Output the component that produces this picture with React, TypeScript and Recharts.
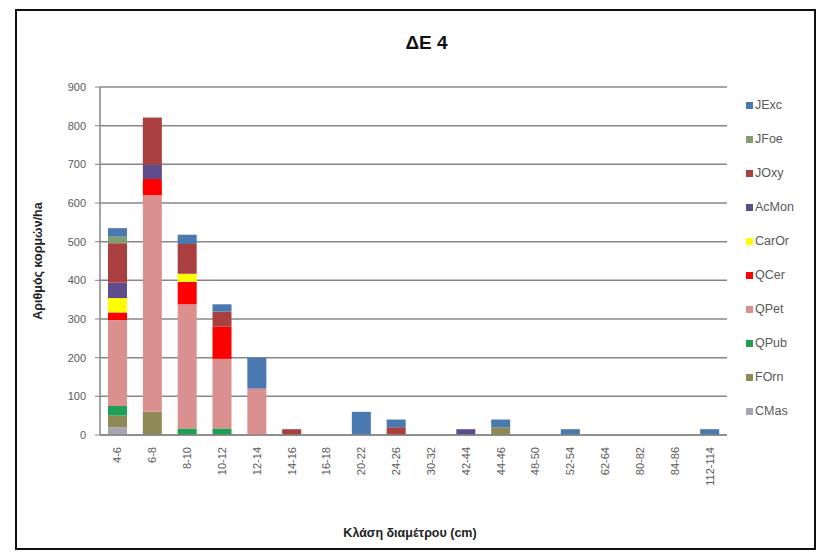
import { BarChart, Bar, XAxis, YAxis, CartesianGrid, Legend } from 'recharts';

const classes = ['4-6', '6-8', '8-10', '10-12', '12-14', '14-16', '16-18', '20-22', '24-26', '30-32', '42-44', '44-46', '48-50', '52-54', '62-64', '80-82', '84-86', '112-114'];

// stems per ha for each species, one value per diameter class
const CMas = [20, 0, 0, 0, 0, 0, 0, 0, 0, 0, 0, 0, 0, 0, 0, 0, 0, 0];
const FOrn = [30, 60, 0, 0, 0, 0, 0, 0, 0, 0, 0, 20, 0, 0, 0, 0, 0, 0];
const QPub = [25, 0, 17, 17, 0, 0, 0, 0, 0, 0, 0, 0, 0, 0, 0, 0, 0, 0];
const QPet = [222, 560, 321, 180, 120, 0, 0, 0, 0, 0, 0, 0, 0, 0, 0, 0, 0, 0];
const QCer = [20, 42, 58, 83, 0, 0, 0, 0, 0, 0, 0, 0, 0, 0, 0, 0, 0, 0];
const CarOr = [37, 0, 21, 0, 0, 0, 0, 0, 0, 0, 0, 0, 0, 0, 0, 0, 0, 0];
const AcMon = [40, 37, 0, 0, 0, 0, 0, 0, 0, 0, 15, 0, 0, 0, 0, 0, 0, 0];
const JOxy = [102, 122, 77, 39, 0, 15, 0, 0, 20, 0, 0, 0, 0, 0, 0, 0, 0, 0];
const JFoe = [17, 0, 0, 0, 0, 0, 0, 0, 0, 0, 0, 0, 0, 0, 0, 0, 0, 0];
const JExc = [22, 0, 24, 19, 80, 0, 0, 60, 20, 0, 0, 20, 0, 15, 0, 0, 0, 15];

const yTicks = [0, 100, 200, 300, 400, 500, 600, 700, 800, 900];

// bottom of the stack first
const series = [
  { key: 'CMas', values: CMas, color: '#a6a6b2' },
  { key: 'FOrn', values: FOrn, color: '#8f8a55' },
  { key: 'QPub', values: QPub, color: '#1f9e55' },
  { key: 'QPet', values: QPet, color: '#d9908f' },
  { key: 'QCer', values: QCer, color: '#ff0000' },
  { key: 'CarOr', values: CarOr, color: '#ffff00' },
  { key: 'AcMon', values: AcMon, color: '#5f4c8c' },
  { key: 'JOxy', values: JOxy, color: '#aa3f3f' },
  { key: 'JFoe', values: JFoe, color: '#7fa06c' },
  { key: 'JExc', values: JExc, color: '#4a78b0' },
];

const data = classes.map((c, i) => {
  const row: Record<string, string | number> = { name: c };
  series.forEach((s) => {
    row[s.key] = s.values[i];
  });
  return row;
});

const FONT = '"Liberation Sans", Arial, sans-serif';
const GRID = '#878787';

const XTick = (props: any) => {
  const { x, y, payload } = props;
  return (
    <text
      x={x}
      y={y + 4}
      transform={`rotate(-90, ${x}, ${y + 4})`}
      textAnchor="end"
      dominantBaseline="central"
      fontSize={11}
      fontFamily={FONT}
      fill="#595959"
    >
      {payload.value}
    </text>
  );
};

// legend lists the top of the stack first
const LegendList = () => (
  <div style={{ fontFamily: FONT, fontSize: 12.5, color: '#595959' }}>
    {[...series].reverse().map((s) => (
      <div key={s.key} style={{ height: 34, display: 'flex', alignItems: 'center' }}>
        <span style={{ width: 7, height: 7, background: s.color, display: 'inline-block', marginRight: 2 }} />
        {s.key}
      </div>
    ))}
  </div>
);

export default function App() {
  return (
    <div style={{ position: 'absolute', left: 0, top: 0, width: 823, height: 552, background: '#fff' }}>
      <div
        style={{
          position: 'absolute',
          left: 15,
          top: 9,
          width: 797,
          height: 537,
          border: '2px solid #111',
          boxSizing: 'content-box',
        }}
      />
      <div
        style={{
          position: 'absolute',
          left: 0,
          width: 853,
          top: 32,
          textAlign: 'center',
          fontFamily: FONT,
          fontWeight: 'bold',
          fontSize: 19,
          color: '#111',
        }}
      >
        ΔΕ 4
      </div>
      <div
        style={{
          position: 'absolute',
          left: 38,
          top: 261,
          transform: 'translate(-50%, -50%) rotate(-90deg)',
          whiteSpace: 'nowrap',
          fontFamily: FONT,
          fontWeight: 'bold',
          fontSize: 12.5,
          color: '#222',
        }}
      >
        Αριθμός κορμών/ha
      </div>
      <div
        style={{
          position: 'absolute',
          left: 410,
          top: 533,
          transform: 'translate(-50%, -50%)',
          whiteSpace: 'nowrap',
          fontFamily: FONT,
          fontWeight: 'bold',
          fontSize: 12.5,
          color: '#222',
        }}
      >
        Κλάση διαμέτρου (cm)
      </div>
      <BarChart
        width={823}
        height={552}
        data={data}
        margin={{ top: 87, right: 96, bottom: 57, left: 40 }}
        barCategoryGap="23%"
        style={{ position: 'absolute', left: 0, top: 0 }}
      >
        <CartesianGrid vertical={false} stroke={GRID} strokeWidth={1.5} />
        <XAxis
          dataKey="name"
          height={60}
          interval={0}
          tick={<XTick />}
          tickLine={false}
          axisLine={{ stroke: GRID, strokeWidth: 1.5 }}
        />
        <YAxis
          width={60}
          domain={[0, 900]}
          ticks={yTicks}
          tickSize={5}
          tickMargin={9}
          tick={{ fontSize: 11, fill: '#595959', fontFamily: FONT }}
          tickLine={{ stroke: GRID }}
          axisLine={{ stroke: GRID, strokeWidth: 1.5 }}
        />
        <Legend
          layout="vertical"
          align="center"
          verticalAlign="middle"
          content={<LegendList />}
          wrapperStyle={{ left: 746, top: 88, width: 76 }}
        />
        {series.map((s) => (
          <Bar key={s.key} dataKey={s.key} stackId="a" fill={s.color} isAnimationActive={false} />
        ))}
      </BarChart>
    </div>
  );
}
